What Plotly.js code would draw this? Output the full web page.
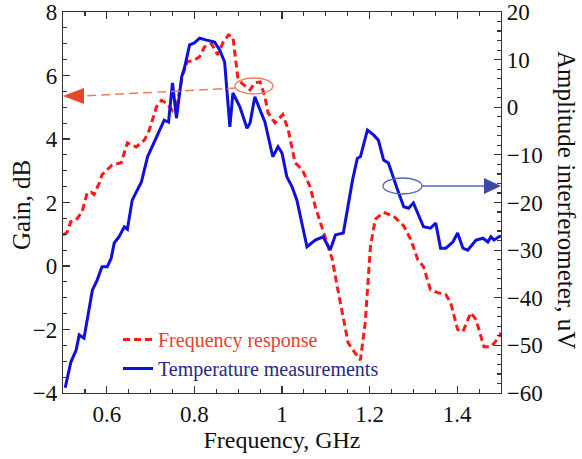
<!DOCTYPE html>
<html>
<head>
<meta charset="utf-8">
<script src="https://cdn.plot.ly/plotly-3.0.1.min.js"></script>
<style>html,body{margin:0;padding:0;background:#fff;}#chart{width:582px;height:459px;}</style>
</head>
<body>
<div id="chart"></div>
<script>
// Frequency response (left axis, Gain dB)
var freqResp = [0.5, 0.509, 0.518, 0.530, 0.544, 0.555, 0.564, 0.571, 0.583, 0.589, 0.612, 0.633, 0.647, 0.667, 0.686, 0.697, 0.713, 0.725, 0.736, 0.750, 0.761, 0.766, 0.773, 0.784, 0.800, 0.812, 0.823, 0.839, 0.853, 0.865, 0.878, 0.888, 0.899, 0.908, 0.927, 0.938, 0.950, 0.961, 0.968, 0.984, 1.002, 1.014, 1.030, 1.046, 1.064, 1.076, 1.099, 1.115, 1.126, 1.138, 1.151, 1.167, 1.179, 1.190, 1.202, 1.213, 1.232, 1.255, 1.278, 1.294, 1.310, 1.323, 1.339, 1.355, 1.374, 1.385, 1.401, 1.413, 1.431, 1.443, 1.461, 1.477, 1.495, 1.5];
var gainDb = [0.98, 1.05, 1.4, 1.45, 1.72, 2.3, 2.33, 2.25, 2.62, 2.87, 3.18, 3.25, 3.88, 3.75, 3.97, 4.28, 5.0, 5.22, 5.13, 4.9, 5.13, 5.54, 6.02, 6.43, 6.49, 6.59, 6.9, 7.0, 6.65, 7.03, 7.28, 7.21, 5.95, 5.76, 5.55, 5.77, 5.8, 5.33, 4.83, 4.51, 4.77, 4.3, 3.25, 3.04, 2.5, 1.87, 0.84, 0.2, -0.64, -1.47, -2.42, -2.74, -2.96, -1.79, 0.62, 1.47, 1.69, 1.57, 1.26, 0.84, 0.2, -0.02, -0.75, -0.84, -0.9, -1.15, -2.0, -2.07, -1.47, -1.69, -2.54, -2.54, -2.26, -2.1];

// Temperature measurements (right axis, Amplitude interferometer uV)
var freqTemp = [0.505, 0.518, 0.530, 0.537, 0.548, 0.555, 0.567, 0.578, 0.589, 0.601, 0.610, 0.617, 0.628, 0.640, 0.647, 0.658, 0.670, 0.679, 0.693, 0.713, 0.731, 0.741, 0.750, 0.759, 0.771, 0.778, 0.789, 0.800, 0.812, 0.828, 0.846, 0.858, 0.869, 0.881, 0.888, 0.904, 0.920, 0.927, 0.938, 0.950, 0.961, 0.979, 0.991, 1.000, 1.011, 1.023, 1.034, 1.057, 1.076, 1.094, 1.110, 1.122, 1.140, 1.161, 1.172, 1.179, 1.195, 1.209, 1.220, 1.232, 1.243, 1.264, 1.278, 1.289, 1.300, 1.323, 1.339, 1.351, 1.362, 1.374, 1.390, 1.401, 1.413, 1.424, 1.443, 1.459, 1.470, 1.477, 1.484, 1.495, 1.5];
var amplitude = [-58.9, -53.5, -51.0, -47.8, -48.5, -44.7, -38.4, -36.3, -33.5, -33.5, -31.7, -28.5, -27.2, -25.1, -25.6, -19.5, -17.4, -15.7, -10.4, -6.2, -2.7, -3.1, 5.1, -2.3, 6.4, 8.5, 13.1, 13.5, 14.5, 14.1, 13.7, 12.0, 9.5, -4.1, 3.0, 0.05, -4.4, -3.3, 2.2, -0.6, -3.1, -10.4, -8.3, -9.6, -14.6, -16.7, -19.5, -29.3, -27.9, -27.2, -30.0, -26.8, -26.4, -15.3, -10.7, -10.4, -4.8, -5.8, -6.9, -11.1, -11.7, -17.4, -20.9, -21.2, -20.1, -25.1, -25.4, -24.3, -29.6, -29.6, -28.3, -26.4, -29.6, -30.0, -27.9, -27.5, -28.3, -27.2, -27.9, -27.2, -27.0];

var xTickVals = [0.6, 0.8, 1, 1.2, 1.4];
var xTickText = ['0.6', '0.8', '1', '1.2', '1.4'];
var seriesNames = ['Frequency response', 'Temperature measurements'];

var FONT = 'Liberation Serif, Times New Roman, serif';
var W = 582, H = 459, ML = 63, MR = 81, MT = 12, MB = 66;
var PW = W - ML - MR, PH = H - MT - MB;
function px(x) { return (x - ML) / PW; }
function py(y) { return (H - MB - y) / PH; }
function pathP(pts) {
  return pts.map(function (p, i) { return (i ? 'L' : 'M') + px(p[0]).toFixed(4) + ',' + py(p[1]).toFixed(4); }).join(' ') + ' Z';
}

var traces = [
  {
    x: freqResp, y: gainDb, type: 'scatter', mode: 'lines',
    name: '<span style="color:#e8402a">' + seriesNames[0] + '</span>',
    line: {color: '#ff1a1a', width: 3, dash: '7px,4px'},
    yaxis: 'y'
  },
  {
    x: freqTemp, y: amplitude, type: 'scatter', mode: 'lines',
    name: '<span style="color:#28288a">' + seriesNames[1] + '</span>',
    line: {color: '#1010dc', width: 3},
    yaxis: 'y2'
  }
];

var axisCommon = {
  showline: true, linecolor: '#333', linewidth: 1.2,
  ticks: 'inside', ticklen: 7, tickwidth: 1.2, tickcolor: '#333',
  showgrid: false, zeroline: false,
  ticklabeloverflow: 'allow',
  tickfont: {family: FONT, size: 23, color: '#111'}
};

var layout = {
  width: W, height: H,
  margin: {l: ML, r: MR, t: MT, b: MB},
  paper_bgcolor: '#fff', plot_bgcolor: '#fff',
  font: {family: FONT, color: '#111'},
  showlegend: true,
  legend: {
    x: px(118), y: py(320), xanchor: 'left', yanchor: 'top',
    bgcolor: 'rgba(0,0,0,0)', borderwidth: 0,
    font: {family: FONT, size: 20},
    tracegroupgap: 0
  },
  xaxis: Object.assign({}, axisCommon, {
    range: [0.5, 1.5], tickvals: xTickVals, ticktext: xTickText,
    mirror: 'ticks',
    minor: {dtick: 0.05, tick0: 0.5, ticks: 'inside', ticklen: 4, tickcolor: '#333', showgrid: false},
    title: {text: 'Frequency, GHz', font: {family: FONT, size: 24, color: '#111'}, standoff: 4}
  }),
  yaxis: Object.assign({}, axisCommon, {
    range: [-4, 8], dtick: 2, tick0: 0,
    minor: {dtick: 0.5, ticks: 'inside', ticklen: 4, tickcolor: '#333', showgrid: false}
  }),
  yaxis2: Object.assign({}, axisCommon, {
    range: [-60, 20], dtick: 10, tick0: 0,
    overlaying: 'y', side: 'right',
    minor: {dtick: 2, ticks: 'inside', ticklen: 4, tickcolor: '#333', showgrid: false}
  }),
  annotations: [
    {
      text: 'Gain, dB', textangle: -90,
      xref: 'paper', yref: 'paper', x: px(21), y: py(205),
      xanchor: 'center', yanchor: 'middle', showarrow: false,
      font: {family: FONT, size: 25, color: '#111'}
    },
    {
      text: 'Amplitude interferometer, uV', textangle: 90,
      xref: 'paper', yref: 'paper', x: px(567), y: py(200),
      xanchor: 'center', yanchor: 'middle', showarrow: false,
      font: {family: FONT, size: 25, color: '#111'}
    }
  ],
  shapes: [
    {type: 'circle', xref: 'paper', yref: 'paper', x0: px(235), x1: px(273), y0: py(94), y1: py(78),
     line: {color: '#f07a5a', width: 1.3}},
    {type: 'line', xref: 'paper', yref: 'paper', x0: px(236), y0: py(88), x1: px(83), y1: py(96),
     line: {color: '#f07a5a', width: 1.5, dash: '9px,5px'}},
    {type: 'path', xref: 'paper', yref: 'paper', path: pathP([[63, 96], [84, 88], [84, 104]]),
     fillcolor: '#e4482a', line: {width: 0}},
    {type: 'circle', xref: 'paper', yref: 'paper', x0: px(383), x1: px(422), y0: py(194), y1: py(178),
     line: {color: '#5565b5', width: 1.3}},
    {type: 'line', xref: 'paper', yref: 'paper', x0: px(422), y0: py(186), x1: px(485), y1: py(186),
     line: {color: '#5565b5', width: 1.4}},
    {type: 'path', xref: 'paper', yref: 'paper', path: pathP([[501, 186], [484, 178], [484, 194]]),
     fillcolor: '#3b4aa2', line: {width: 0}}
  ]
};

Plotly.newPlot('chart', traces, layout, {displayModeBar: false, staticPlot: true});
</script>
</body>
</html>
